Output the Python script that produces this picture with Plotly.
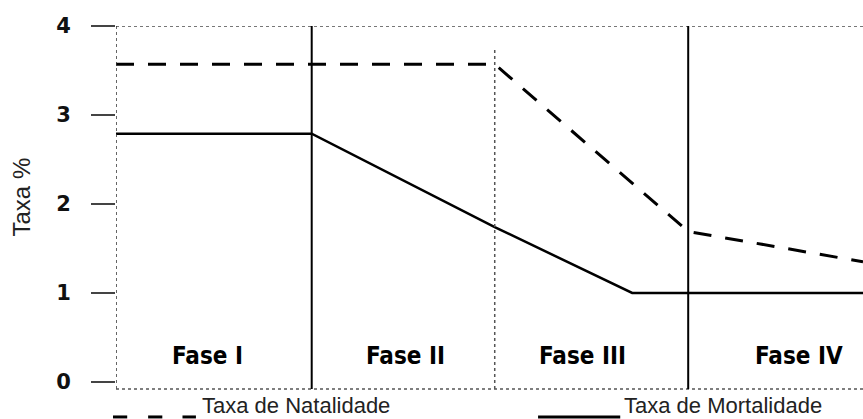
import plotly.graph_objects as go

# Data (x: relative time 0-100, y: rate %)
nat_x = [0, 50.7, 76.6, 100]
nat_y = [3.57, 3.57, 1.69, 1.35]
mort_x = [0, 26.2, 50.7, 69.1, 100]
mort_y = [2.79, 2.79, 1.74, 1.0, 1.0]
phase_bounds = [26.2, 50.7, 76.6]
phase_labels = ["Fase I", "Fase II", "Fase III", "Fase IV"]
phase_label_x = [12.2, 38.8, 62.4, 91.4]
y_ticks = [0, 1, 2, 3, 4]

fig = go.Figure()
fig.add_trace(go.Scatter(x=nat_x, y=nat_y, mode="lines",
                         line=dict(color="black", width=3, dash="18px,14px"),
                         name="Taxa de Natalidade", showlegend=False))
fig.add_trace(go.Scatter(x=mort_x, y=mort_y, mode="lines",
                         line=dict(color="black", width=2.5),
                         name="Taxa de Mortalidade", showlegend=False))

shapes = []
# top dotted border
shapes.append(dict(type="line", xref="x", yref="y", x0=0, x1=100, y0=4, y1=4,
                   line=dict(color="#777", width=2, dash="dot")))
# left axis dotted
shapes.append(dict(type="line", xref="x", yref="paper", x0=0, x1=0, y0=0, y1=1,
                   line=dict(color="#333", width=1.5, dash="dot")))
# bottom axis dotted
shapes.append(dict(type="line", xref="x", yref="paper", x0=0, x1=100, y0=0, y1=0,
                   line=dict(color="#555", width=1.5, dash="dot")))
# phase boundaries
shapes.append(dict(type="line", xref="x", yref="paper", x0=phase_bounds[0], x1=phase_bounds[0],
                   y0=0, y1=1, line=dict(color="black", width=2)))
shapes.append(dict(type="line", xref="x", yref="y", x0=phase_bounds[1], x1=phase_bounds[1],
                   y0=-0.08, y1=3.73, line=dict(color="#555", width=1.5, dash="dot")))
shapes.append(dict(type="line", xref="x", yref="paper", x0=phase_bounds[2], x1=phase_bounds[2],
                   y0=0, y1=1, line=dict(color="black", width=2)))
# legend samples (below the plot)
for x0, x1 in [(-0.004, 0.015), (0.043, 0.062), (0.089, 0.107)]:
    shapes.append(dict(type="line", xref="paper", yref="paper", x0=x0, x1=x1,
                       y0=-0.077, y1=-0.077, line=dict(color="black", width=3)))
shapes.append(dict(type="line", xref="paper", yref="paper", x0=0.565, x1=0.675,
                   y0=-0.077, y1=-0.077, line=dict(color="black", width=3)))

annotations = []
for lx, lab in zip(phase_label_x, phase_labels):
    annotations.append(dict(x=lx, y=0.29, xref="x", yref="y", text=lab, showarrow=False,
                            font=dict(family="DejaVu Sans Condensed, DejaVu Sans", size=24,
                                      color="black", weight="bold"),
                            xanchor="center", yanchor="middle"))
annotations.append(dict(x=-0.126, y=0.53, xref="paper", yref="paper", text="Taxa %",
                        textangle=-90, showarrow=False,
                        font=dict(family="Liberation Sans, Arial", size=24, color="#222"),
                        xanchor="center", yanchor="middle"))
annotations.append(dict(x=0.112, y=-0.046, xref="paper", yref="paper", text="Taxa de Natalidade",
                        showarrow=False, font=dict(family="Liberation Sans, Arial", size=22, color="#222"),
                        xanchor="left", yanchor="middle"))
annotations.append(dict(x=0.677, y=-0.046, xref="paper", yref="paper", text="Taxa de Mortalidade",
                        showarrow=False, font=dict(family="Liberation Sans, Arial", size=22, color="#222"),
                        xanchor="left", yanchor="middle"))

fig.update_layout(
    width=863, height=419,
    margin=dict(l=116, r=0, t=26, b=30, autoexpand=False),
    paper_bgcolor="white", plot_bgcolor="white",
    shapes=shapes, annotations=annotations,
    xaxis=dict(range=[0, 100], visible=False, showgrid=False, zeroline=False, automargin=False),
    yaxis=dict(range=[-0.08, 4], tickvals=y_ticks, ticktext=[str(v) for v in y_ticks],
               showgrid=False, zeroline=False, showline=False, automargin=False,
               ticks="outside", ticklen=24, tickwidth=1.5, tickcolor="#444",
               ticklabelstandoff=16,
               tickfont=dict(family="DejaVu Sans", size=21, color="#111", weight="bold")),
)

fig.write_html("out.html", config={"displayModeBar": False},
               post_script="document.body.style.margin='0';document.body.style.overflow='hidden';")
